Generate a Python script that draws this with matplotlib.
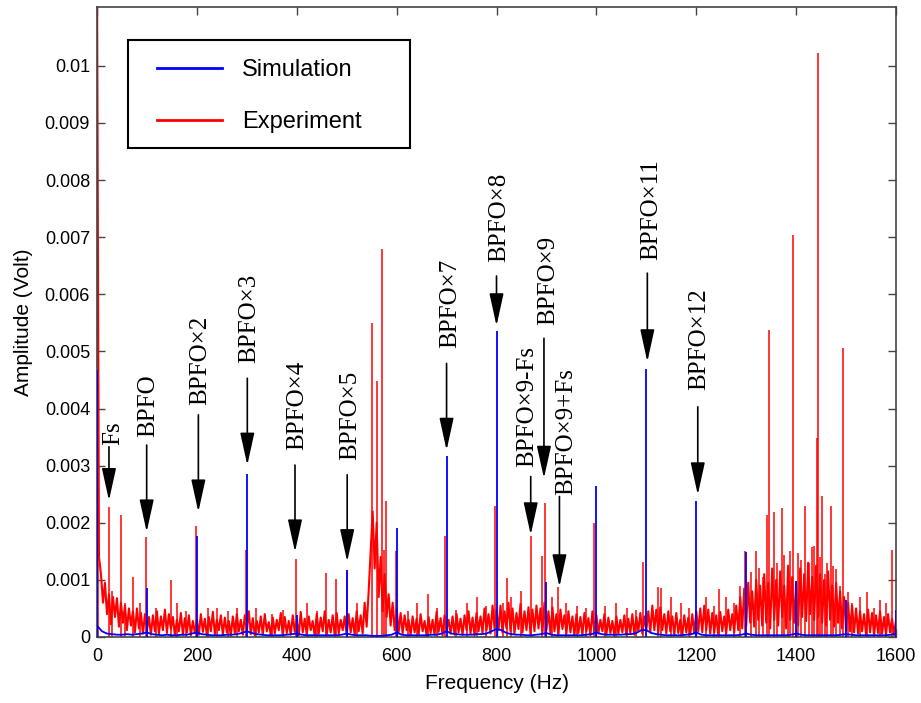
import numpy as np
import matplotlib.pyplot as plt
from matplotlib.patches import Rectangle

# experiment: noise floor on a 4 Hz grid (units of 1e-5 V)
exp_freq = np.arange(0, 1601, 4)
exp_floor = np.array([
    1180, 140, 110, 60, 95, 40, 75, 22, 70, 35, 68, 18, 60, 25, 55, 12, 50, 20, 45, 8,
    50, 15, 42, 6, 40, 12, 35, 4, 38, 10, 45, 5, 36, 12, 48, 7, 40, 14, 35, 3,
    30, 10, 42, 4, 33, 8, 38, 3, 28, 7, 30, 4, 40, 9, 32, 3, 35, 10, 44, 5,
    30, 12, 38, 4, 34, 8, 28, 2, 36, 7, 40, 10, 30, 4, 38, 12, 45, 5, 33, 3,
    28, 8, 36, 4, 40, 10, 26, 3, 34, 6, 30, 12, 42, 2, 35, 7, 28, 4, 38, 9,
    30, 3, 44, 8, 32, 4, 36, 12, 28, 2, 40, 6, 34, 10, 45, 4, 30, 8, 38, 3,
    42, 6, 30, 12, 36, 3, 40, 8, 33, 4, 45, 10, 38, 6, 60, 18, 80, 150, 220, 120,
    200, 70, 140, 45, 110, 35, 75, 20, 60, 12, 50, 8, 42, 6, 38, 12, 30, 3, 36, 8,
    32, 4, 40, 10, 28, 2, 35, 7, 30, 4, 44, 9, 33, 3, 38, 12, 30, 6, 36, 4,
    40, 8, 32, 4, 38, 12, 45, 6, 34, 3, 42, 10, 36, 7, 50, 12, 40, 6, 55, 15,
    48, 12, 55, 8, 45, 15, 60, 10, 50, 6, 42, 14, 58, 8, 45, 12, 52, 5, 48, 10,
    55, 15, 50, 8, 60, 12, 45, 6, 52, 10, 40, 4, 48, 14, 38, 6, 45, 8, 36, 3,
    40, 7, 35, 4, 42, 10, 33, 3, 45, 8, 38, 6, 30, 10, 40, 4, 34, 7, 28, 2,
    36, 6, 30, 8, 38, 3, 32, 7, 40, 4, 35, 10, 42, 6, 36, 12, 45, 8, 55, 12,
    48, 8, 52, 12, 40, 6, 45, 10, 36, 4, 42, 7, 30, 3, 38, 8, 34, 4, 40, 6,
    45, 10, 50, 8, 55, 12, 48, 6, 42, 8, 38, 4, 44, 10, 36, 6, 48, 12, 40, 8,
    55, 12, 70, 15, 85, 20, 95, 25, 80, 18, 100, 30, 90, 20, 110, 25, 95, 15, 120, 30,
    100, 20, 115, 35, 90, 15, 125, 30, 105, 25, 95, 20, 120, 35, 110, 28, 130, 40, 105, 30,
    125, 35, 110, 25, 100, 20, 115, 30, 90, 18, 95, 25, 80, 15, 70, 12, 60, 10, 55, 8,
    50, 6, 45, 10, 40, 4, 48, 8, 42, 3, 38, 7, 45, 6, 35, 4, 40, 8, 32, 3,
    30,
]) * 1e-5

# experiment: discrete spectral lines (Hz, V)
exp_peak_freq = [0, 2, 25, 30, 49, 57, 73, 86, 99, 118, 148, 160, 178, 199, 222, 240,
                 262, 280, 299, 318, 350, 372, 398, 420, 440, 458, 478, 500, 520, 551,
                 561, 571, 575, 579, 599, 622, 640, 663, 680, 697, 718, 740, 760, 778,
                 797, 812, 822, 830, 850, 870, 892, 897, 912, 923, 940, 962, 980, 996,
                 1018, 1040, 1062, 1080, 1094, 1124, 1130, 1150, 1170, 1186, 1220, 1236,
                 1246, 1260, 1276, 1288, 1297, 1309, 1319, 1326, 1334, 1342, 1346, 1356,
                 1362, 1371, 1376, 1383, 1388, 1393, 1403, 1410, 1418, 1425, 1431, 1436,
                 1441, 1443, 1447, 1451, 1457, 1462, 1469, 1474, 1480, 1487, 1493, 1503,
                 1512, 1528, 1542, 1556, 1567, 1580, 1592]
exp_peak_amp = [0.0118, 0.0026, 0.00228, 0.0008, 0.00214, 0.0006, 0.00105, 0.0006,
                0.00175, 0.0005, 0.001, 0.0006, 0.00045, 0.00195, 0.0005, 0.0005,
                0.00045, 0.0005, 0.00152, 0.0005, 0.0004, 0.00048, 0.00136, 0.0006,
                0.00045, 0.00112, 0.00101, 0.00115, 0.0006, 0.0055, 0.00449, 0.00679,
                0.00152, 0.00238, 0.0015, 0.00045, 0.0006, 0.00075, 0.0005, 0.00177,
                0.00048, 0.0006, 0.0007, 0.00055, 0.00229, 0.0006, 0.00103, 0.0007,
                0.0008, 0.00177, 0.00142, 0.00234, 0.0007, 0.00087, 0.0006, 0.00055,
                0.0005, 0.002, 0.00055, 0.0006, 0.0005, 0.00048, 0.00131, 0.00088,
                0.00085, 0.0007, 0.0006, 0.0005, 0.0007, 0.00055, 0.00084, 0.0007,
                0.0006, 0.0009, 0.0015, 0.00114, 0.00151, 0.0012, 0.00105, 0.00214,
                0.00538, 0.00219, 0.0013, 0.00226, 0.00144, 0.0012, 0.0015, 0.00704,
                0.00147, 0.00135, 0.0023, 0.0013, 0.00158, 0.0016, 0.00349, 0.01023,
                0.0014, 0.00246, 0.0011, 0.0013, 0.00229, 0.00125, 0.00119, 0.0009,
                0.00506, 0.00078, 0.0006, 0.0007, 0.00078, 0.0005, 0.00065, 0.0006,
                0.00152]

# simulation: floor on a 10 Hz grid (units of 1e-5 V)
sim_freq = np.arange(0, 1601, 10)
sim_floor = np.array([
    20, 10, 6, 5, 4, 4, 5, 4, 5, 6,
    8, 5, 4, 3, 4, 3, 3, 4, 4, 6,
    8, 5, 4, 3, 3, 3, 4, 4, 5, 7,
    10, 7, 5, 4, 3, 3, 3, 3, 4, 5,
    6, 4, 3, 3, 3, 3, 3, 3, 3, 4,
    6, 4, 3, 3, 3, 2, 2, 2, 3, 4,
    8, 4, 3, 3, 3, 3, 3, 4, 4, 6,
    10, 6, 5, 4, 4, 4, 5, 5, 6, 10,
    14, 12, 7, 5, 4, 4, 3, 3, 4, 5,
    7, 4, 3, 3, 3, 3, 3, 3, 4, 5,
    8, 5, 4, 4, 4, 4, 5, 5, 7, 12,
    12, 7, 5, 4, 3, 3, 3, 3, 4, 5,
    8, 4, 3, 3, 3, 3, 3, 3, 3, 4,
    6, 4, 3, 3, 3, 3, 3, 3, 3, 4,
    6, 4, 3, 3, 3, 3, 3, 3, 3, 4,
    5, 4, 3, 3, 3, 3, 3, 3, 3, 4,
    6,
]) * 1e-5

# simulation: harmonics of BPFO (Hz, V)
sim_peak_freq = [0, 100, 200, 300, 400, 500, 600, 700, 800, 900, 1000, 1100, 1200,
                 1300, 1400, 1500, 1600]
sim_peak_amp = [0.00468, 0.00086, 0.00177, 0.00285, 0.00038, 0.00118, 0.0019, 0.00317,
                0.00536, 0.00097, 0.00264, 0.00469, 0.00238, 0.00148, 0.00098, 0.00065,
                0.00047]

# labels with arrows: arrow x, arrow top, arrow tip, text x, text bottom
ann_labels = ["Fs", "BPFO", "BPFO×2", "BPFO×3", "BPFO×4", "BPFO×5", "BPFO×7",
              "BPFO×8", "BPFO×9", "BPFO×9-Fs", "BPFO×9+Fs", "BPFO×11", "BPFO×12"]
ann_x = [24, 99.5, 203, 301, 396.5, 501, 700, 800, 895, 868.5, 926, 1102, 1203]
ann_top = [0.00333, 0.00336, 0.00389, 0.00453, 0.00301, 0.00284, 0.00479, 0.00632,
           0.00523, 0.00281, 0.00246, 0.00637, 0.00403]
ann_tip = [0.00239, 0.00184, 0.00219, 0.00301, 0.00149, 0.00132, 0.00327, 0.00545,
           0.00278, 0.00179, 0.00088, 0.00482, 0.00249]
ann_text_x = [33, 103, 206, 304, 400, 507, 708, 805, 904, 862, 940, 1109, 1206]
ann_text_y = [0.00336, 0.0035, 0.00406, 0.00479, 0.00327, 0.0031, 0.00506, 0.00657,
              0.00546, 0.00298, 0.00249, 0.0066, 0.00433]

y_ticks = [0, 0.001, 0.002, 0.003, 0.004, 0.005, 0.006, 0.007, 0.008, 0.009, 0.01]
y_tick_labels = ["0", "0.001", "0.002", "0.003", "0.004", "0.005", "0.006", "0.007",
                 "0.008", "0.009", "0.01"]
x_ticks = [0, 200, 400, 600, 800, 1000, 1200, 1400, 1600]

plt.rcParams["font.family"] = ["Liberation Sans", "DejaVu Sans"]

fig = plt.figure(figsize=(9.21, 7.03), dpi=100)
ax = fig.add_axes([0.1053, 0.0939, 0.8676, 0.8961])

# experiment (red) underneath, simulation (blue) on top
ax.plot(exp_freq, exp_floor, color="#ff0000", lw=1.5, zorder=2)
ax.vlines(exp_peak_freq, 0, exp_peak_amp, color="#ff0000", lw=1.1, zorder=2)
ax.plot(sim_freq, sim_floor, color="#0000ff", lw=1.3, zorder=3)
ax.vlines(sim_peak_freq, 0, sim_peak_amp, color="#0000ff", lw=1.3, zorder=3)

# legend proxies
ax.plot([], [], color="#0000ff", lw=2, label="Simulation")
ax.plot([], [], color="#ff0000", lw=2, label="Experiment")

for lab, x, top, tip, tx, ty in zip(ann_labels, ann_x, ann_top, ann_tip,
                                    ann_text_x, ann_text_y):
    ax.annotate("", xy=(x, tip), xytext=(x, top),
                arrowprops=dict(arrowstyle="-|>,head_length=1.0,head_width=0.22",
                                mutation_scale=20, lw=1.2, color="black",
                                shrinkA=0, shrinkB=0),
                zorder=5)
    ax.text(tx, ty, lab, rotation=90, ha="center", va="bottom",
            family=["Liberation Serif", "DejaVu Serif"], fontsize=18, zorder=5)

ax.set_xlim(0, 1600)
ax.set_ylim(0, 0.01103)
ax.set_xticks(x_ticks)
ax.set_xticklabels([str(t) for t in x_ticks])
ax.set_yticks(y_ticks)
ax.set_yticklabels(y_tick_labels)
ax.tick_params(direction="in", length=6, width=1, colors="#444444", labelcolor="black",
               labelsize=13, top=True, right=True)
ax.tick_params(axis="x", pad=8)
ax.tick_params(axis="y", pad=5)
for sp in ax.spines.values():
    sp.set_color("#444444")
    sp.set_linewidth(1.2)

ax.set_xlabel("Frequency (Hz)", fontsize=15)
ax.set_ylabel("Amplitude (Volt)", fontsize=15)
ax.xaxis.set_label_coords(0.5, -0.058)
ax.yaxis.set_label_coords(-0.08, 0.5)

# legend box drawn separately so the entries can sit further in
ax.add_patch(Rectangle((0.039, 0.776), 0.353, 0.172, transform=ax.transAxes,
                       facecolor="white", edgecolor="black", lw=1.5, zorder=6))
leg = ax.legend(loc="upper left", bbox_to_anchor=(0.075, 0.917), frameon=False,
                borderpad=0, borderaxespad=0, fontsize=17, handlelength=2.75,
                handletextpad=0.85, labelspacing=1.25)
leg.set_zorder(7)

fig.savefig("out.png", dpi=100)
